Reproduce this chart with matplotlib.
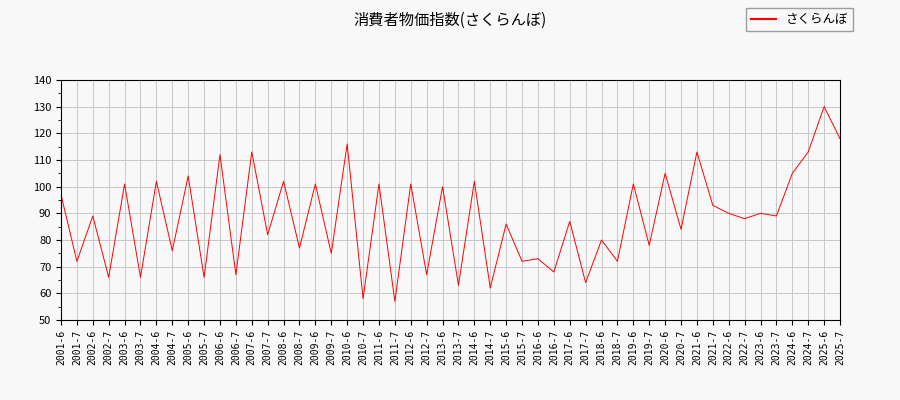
import matplotlib
matplotlib.use("Agg")
import matplotlib.pyplot as plt
from matplotlib.ticker import MultipleLocator
from matplotlib.lines import Line2D

plt.rcParams['font.family'] = ['Noto Sans CJK JP', 'DejaVu Sans']

labels = []
for y in range(2001, 2026):
    labels += [f"{y}-6", f"{y}-7"]
values = [97, 72, 89, 66, 101, 66, 102, 76, 104, 66,
          112, 67, 113, 82, 102, 77, 101, 75, 116, 58,
          101, 57, 101, 67, 100, 63, 102, 62, 86, 72,
          73, 68, 87, 64, 80, 72, 101, 78, 105, 84,
          113, 93, 90, 88, 90, 89, 105, 113, 130, 118]

fig = plt.figure(figsize=(9, 4), dpi=100, facecolor='#f8f8f8')
ax = fig.add_axes([61/900, 80/400, 779/900, 240/400])
ax.set_facecolor('#f8f8f8')
x = list(range(len(values)))
ax.plot(x, values, color='red', linewidth=0.7)
ax.set_xlim(0, len(values) - 1)
ax.set_ylim(50, 140)
ax.set_xticks(x)
ax.set_xticklabels(labels, rotation=90, fontsize=7, family='DejaVu Sans Mono')
ax.yaxis.set_major_locator(MultipleLocator(10))
ax.yaxis.set_minor_locator(MultipleLocator(5))
ax.tick_params(axis='y', labelsize=8)
ax.grid(True, color='#c8c8c8', linewidth=0.7)
fig.suptitle('消費者物価指数(さくらんぼ)', y=0.97, fontsize=11)
handle = Line2D([], [], color='red', linewidth=1.5)
fig.legend([handle], ['さくらんぼ'], loc='upper right', bbox_to_anchor=(0.955, 0.995), fontsize=9,
           facecolor='#f8f8f8', fancybox=False, edgecolor='#888')
fig.savefig('out.png', facecolor=fig.get_facecolor())
